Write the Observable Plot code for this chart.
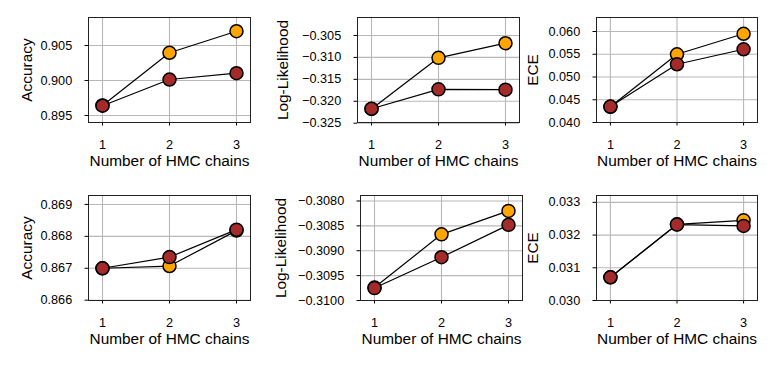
<!DOCTYPE html>
<html><head><meta charset="utf-8">
<script src="https://cdn.jsdelivr.net/npm/d3@7"></script>
<script src="https://cdn.jsdelivr.net/npm/@observablehq/plot@0.6"></script>
<style>
body{margin:0;background:#fff;}
#chart{position:relative;width:780px;height:368px;background:#fff;overflow:hidden;}
#chart svg{position:absolute;left:0;top:0;}
</style></head><body><div id="chart"></div>
<script>
// ---- data ----
const chains = [1, 2, 3];
const xLabel = "Number of HMC chains";
const yLabels = ["Accuracy", "Log-Likelihood", "ECE", "Accuracy", "Log-Likelihood", "ECE"];

const accTopOrange = [0.89643, 0.90396, 0.90704];
const accTopRed    = [0.89640, 0.90014, 0.90104];
const llTopOrange  = [-0.32174, -0.31010, -0.30676];
const llTopRed     = [-0.32170, -0.31728, -0.31735];
const eceTopOrange = [0.04346, 0.05500, 0.05950];
const eceTopRed    = [0.04350, 0.05280, 0.05610];
const accBotOrange = [0.86700, 0.86707, 0.86818];
const accBotRed    = [0.86700, 0.86735, 0.86821];
const llBotOrange  = [-0.30974, -0.30867, -0.30820];
const llBotRed     = [-0.30975, -0.30913, -0.30848];
const eceBotOrange = [0.03071, 0.03233, 0.03245];
const eceBotRed    = [0.03071, 0.03232, 0.03228];

const yTicksAccTop = [0.895, 0.900, 0.905];
const yTicksLlTop  = [-0.325, -0.320, -0.315, -0.310, -0.305];
const yTicksEceTop = [0.040, 0.045, 0.050, 0.055, 0.060];
const yTicksAccBot = [0.866, 0.867, 0.868, 0.869];
const yTicksLlBot  = [-0.3100, -0.3095, -0.3090, -0.3085, -0.3080];
const yTicksEceBot = [0.030, 0.031, 0.032, 0.033];

const seriesOrange = "#ffa500";
const seriesRed = "#a52a2a";

// ---- layout (frame edges in page pixels) ----
const panels = [
  {o: accTopOrange, r: accTopRed, ticks: yTicksAccTop, fmt: ".3f", yd: [0.894, 0.909], f: [88, 250, 17, 122], ly: -61},
  {o: llTopOrange, r: llTopRed, ticks: yTicksLlTop, fmt: ".3f", yd: [-0.32484, -0.30090], f: [357, 519, 17, 122], ly: -74},
  {o: eceTopOrange, r: eceTopRed, ticks: yTicksEceTop, fmt: ".3f", yd: [0.040, 0.06308], f: [596, 757, 17, 122], ly: -63},
  {o: accBotOrange, r: accBotRed, ticks: yTicksAccBot, fmt: ".3f", yd: [0.86599, 0.86928], f: [88, 250, 195, 300], ly: -61},
  {o: llBotOrange, r: llBotRed, ticks: yTicksLlBot, fmt: ".4f", yd: [-0.3100, -0.30789], f: [360, 522, 195, 300], ly: -79},
  {o: eceBotOrange, r: eceBotRed, ticks: yTicksEceBot, fmt: ".3f", yd: [0.0300, 0.03321], f: [596, 757, 195, 300], ly: -63}
];

const W = 780, H = 368;
const chart = document.getElementById("chart");
const blank = () => "";

panels.forEach((p, i) => {
  const [L, R, T, B] = p.f;
  const orange = chains.map((c, k) => ({x: c, y: p.o[k]}));
  const red = chains.map((c, k) => ({x: c, y: p.r[k]}));
  const yFmt = d3.format(p.fmt);
  const svg = Plot.plot({
    width: W, height: H,
    marginLeft: L, marginRight: W - R, marginTop: T, marginBottom: H - B,
    style: {background: "transparent", fontFamily: "'Liberation Sans', Arial, sans-serif", fontSize: "12.7px", color: "#000", overflow: "visible"},
    x: {domain: [0.791, 3.209]},
    y: {domain: p.yd},
    marks: [
      Plot.gridX(chains, {stroke: "#b8b8b8", strokeOpacity: 1, strokeWidth: 1.1}),
      Plot.gridY(p.ticks, {stroke: "#b8b8b8", strokeOpacity: 1, strokeWidth: 1.1}),
      Plot.axisX({ticks: chains, tickSize: 3.5, tickFormat: blank, label: null}),
      Plot.axisY({ticks: p.ticks, tickSize: 3.5, tickFormat: blank, label: null}),
      Plot.text(chains, {x: d => d, frameAnchor: "bottom", textAnchor: "middle", lineAnchor: "middle", dy: 22, text: d => String(d), fontSize: 12.7, fill: "#000"}),
      Plot.text(p.ticks, {y: d => d, frameAnchor: "left", textAnchor: "end", lineAnchor: "middle", dx: -16.3, text: d => yFmt(d), fontSize: 12.7, fill: "#000"}),
      Plot.text([xLabel], {frameAnchor: "bottom", textAnchor: "middle", lineAnchor: "middle", dy: 38.5, fontSize: 15.4, fill: "#000"}),
      Plot.text([yLabels[i]], {frameAnchor: "left", textAnchor: "middle", lineAnchor: "middle", rotate: -90, dx: p.ly, fontSize: 15.4, fill: "#000"}),
      Plot.frame({stroke: "#222", strokeWidth: 1}),
      Plot.line(orange, {x: "x", y: "y", stroke: "#000", strokeWidth: 1.2}),
      Plot.dot(orange, {x: "x", y: "y", r: 6.5, fill: seriesOrange, stroke: "#000", strokeWidth: 1.5}),
      Plot.line(red, {x: "x", y: "y", stroke: "#000", strokeWidth: 1.2}),
      Plot.dot(red, {x: "x", y: "y", r: 6.5, fill: seriesRed, stroke: "#000", strokeWidth: 1.5})
    ]
  });
  chart.appendChild(svg);
});
</script></body></html>
